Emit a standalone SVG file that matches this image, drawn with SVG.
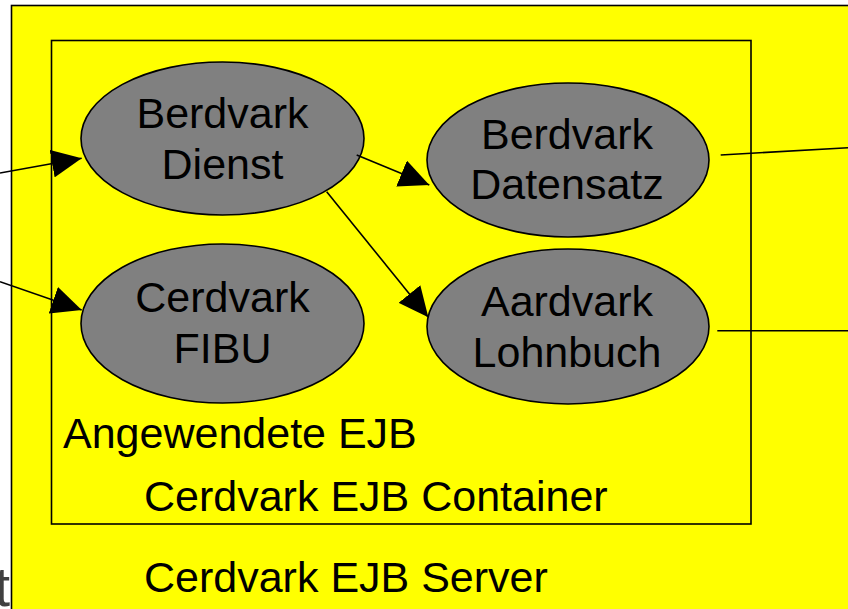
<svg xmlns="http://www.w3.org/2000/svg" width="848" height="609" viewBox="0 0 848 609">
  <style>
    .frame { fill: none; stroke: #000; stroke-width: 1.6; }
    .bean { fill: #808080; stroke: #000; stroke-width: 1.6; }
    .lbl { font-family: "Liberation Sans", Arial, sans-serif; font-size: 43px; fill: #000; }
    .mid { text-anchor: middle; }
    .wire { fill: none; stroke: #000; stroke-width: 1.6; }
  </style>
  <defs>
    <marker id="head" markerUnits="userSpaceOnUse" markerWidth="30" markerHeight="28" refX="30" refY="14" orient="auto">
      <path d="M0,0 L30,14 L0,28 Z" fill="#000"/>
    </marker>
  </defs>

  <rect x="0" y="0" width="848" height="609" fill="#fff"/>

  <!-- server area -->
  <g id="server">
    <rect x="11.5" y="5.5" width="900" height="700" fill="#ffff00" stroke="#000" stroke-width="1.6"/>
    <text class="lbl" x="144" y="592">Cerdvark EJB Server</text>
  </g>

  <!-- container -->
  <g id="container">
    <rect class="frame" x="51.5" y="40.5" width="699.5" height="483.5"/>
    <text class="lbl" x="63" y="448">Angewendete EJB</text>
    <text class="lbl" x="144" y="511">Cerdvark EJB Container</text>
  </g>

  <g id="berdvark-dienst">
    <ellipse class="bean" cx="222.5" cy="138.5" rx="141.5" ry="76.5"/>
    <text class="lbl mid" x="222.5" y="128">Berdvark</text>
    <text class="lbl mid" x="222.5" y="179">Dienst</text>
  </g>

  <g id="berdvark-datensatz">
    <ellipse class="bean" cx="568" cy="160" rx="141" ry="77"/>
    <text class="lbl mid" x="567" y="149">Berdvark</text>
    <text class="lbl mid" x="567" y="199">Datensatz</text>
  </g>

  <g id="cerdvark-fibu">
    <ellipse class="bean" cx="222.5" cy="323.5" rx="141.5" ry="79.5"/>
    <text class="lbl mid" x="222.5" y="312">Cerdvark</text>
    <text class="lbl mid" x="222.5" y="363">FIBU</text>
  </g>

  <g id="aardvark-lohnbuch">
    <ellipse class="bean" cx="568" cy="326.5" rx="141" ry="77.5"/>
    <text class="lbl mid" x="567" y="316">Aardvark</text>
    <text class="lbl mid" x="567" y="367">Lohnbuch</text>
  </g>

  <!-- connectors -->
  <g id="connectors">
    <line class="wire" x1="0" y1="173" x2="81.7" y2="158.3" marker-end="url(#head)"/>
    <line class="wire" x1="0" y1="281.7" x2="81.7" y2="310" marker-end="url(#head)"/>
    <line class="wire" x1="356.7" y1="155" x2="429.3" y2="185" marker-end="url(#head)"/>
    <line class="wire" x1="326.7" y1="191.7" x2="428.3" y2="317.3" marker-end="url(#head)"/>
    <line class="wire" x1="720.7" y1="155" x2="848" y2="147.7"/>
    <line class="wire" x1="717.3" y1="330.7" x2="848" y2="330.7"/>
  </g>

  <!-- letter running in from the left margin -->
  <text x="10" y="606" text-anchor="end" font-family="'Liberation Sans', Arial, sans-serif" font-size="56" fill="#404040">t</text>
</svg>
